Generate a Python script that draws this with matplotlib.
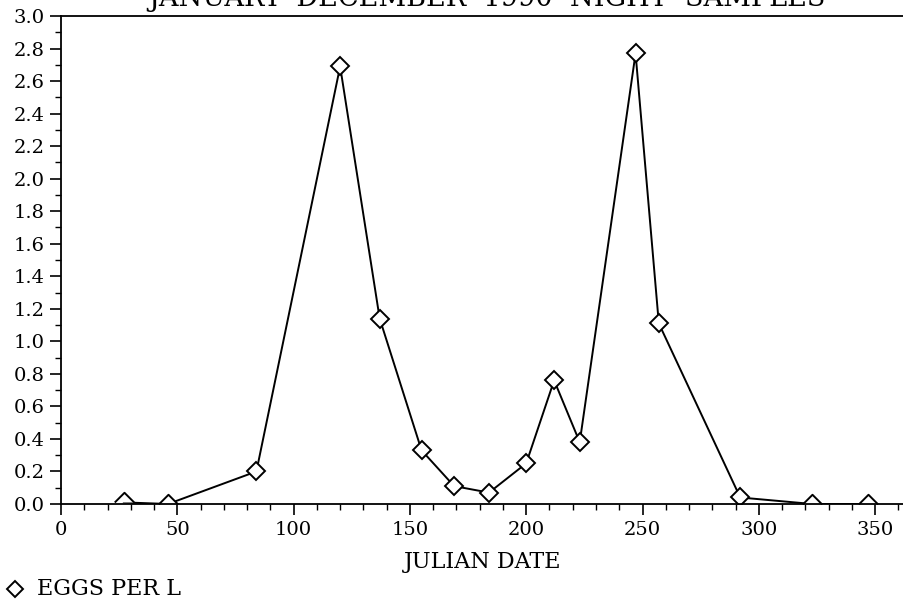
import numpy as np
import matplotlib
matplotlib.use('Agg')
import matplotlib.pyplot as plt
from matplotlib.lines import Line2D
from matplotlib.ticker import MultipleLocator, FormatStrFormatter

# eggs per litre by julian date
julian_date = [27, 46, 84, 120, 137, 155, 169, 184, 200, 212, 223, 247, 257, 292, 323, 347]
eggs_per_l = [0.01, 0.0, 0.20, 2.69, 1.14, 0.33, 0.11, 0.07, 0.25, 0.76, 0.38, 2.77, 1.11, 0.04, 0.0, 0.0]

TITLE = 'JANUARY- DECEMBER  1990  NIGHT  SAMPLES'
XLABEL = 'JULIAN DATE'
LEGEND = 'EGGS PER L'

plt.rcParams['font.family'] = 'DejaVu Serif'

fig = plt.figure(figsize=(9.04, 6.01), dpi=100)
ax = fig.add_axes([61 / 904, 1 - 504 / 601, 1 - 61 / 904, (504 - 16) / 601])

x = np.array(julian_date)
y = np.array(eggs_per_l)
on_axis = y < 0.02  # these sit on the axis line, lower half hidden

ax.plot(x, y, color='black', lw=1.4)
ax.plot(x[~on_axis], y[~on_axis], ls='none', marker='D', ms=9.5,
        mfc='white', mec='black', mew=1.4)
half_diamond = [(-1, 0), (0, 1), (1, 0)]
ax.plot(x[on_axis], y[on_axis], ls='none', marker=half_diamond, ms=14,
        mfc='white', mec='black', mew=1.4)

ax.set_xlim(0, 362.4)
ax.set_ylim(0, 3.0)
ax.xaxis.set_major_locator(MultipleLocator(50))
ax.xaxis.set_minor_locator(MultipleLocator(10))
ax.yaxis.set_major_locator(MultipleLocator(0.2))
ax.yaxis.set_minor_locator(MultipleLocator(0.1))
ax.yaxis.set_major_formatter(FormatStrFormatter('%.1f'))
ax.tick_params(axis='both', which='major', direction='out', length=8, width=1.2,
               labelsize=14, pad=4)
ax.tick_params(axis='both', which='minor', direction='out', length=4, width=1.0)
ax.spines['right'].set_visible(False)
for s in ('left', 'bottom', 'top'):
    ax.spines[s].set_linewidth(1.3)

ax.set_xlabel(XLABEL, fontsize=16, labelpad=9)

fig.text(487 / 904, 1 - 6 / 601, TITLE, fontsize=19.5, ha='center', va='baseline')

# legend line at bottom left
fig.lines.append(Line2D([15 / 904], [1 - 589 / 601], marker='D', ms=8,
                        mfc='white', mec='black', mew=1.4,
                        transform=fig.transFigure))
fig.text(37 / 904, 1 - 589 / 601, LEGEND, fontsize=16, ha='left', va='center')

fig.savefig('out.png', dpi=100)
